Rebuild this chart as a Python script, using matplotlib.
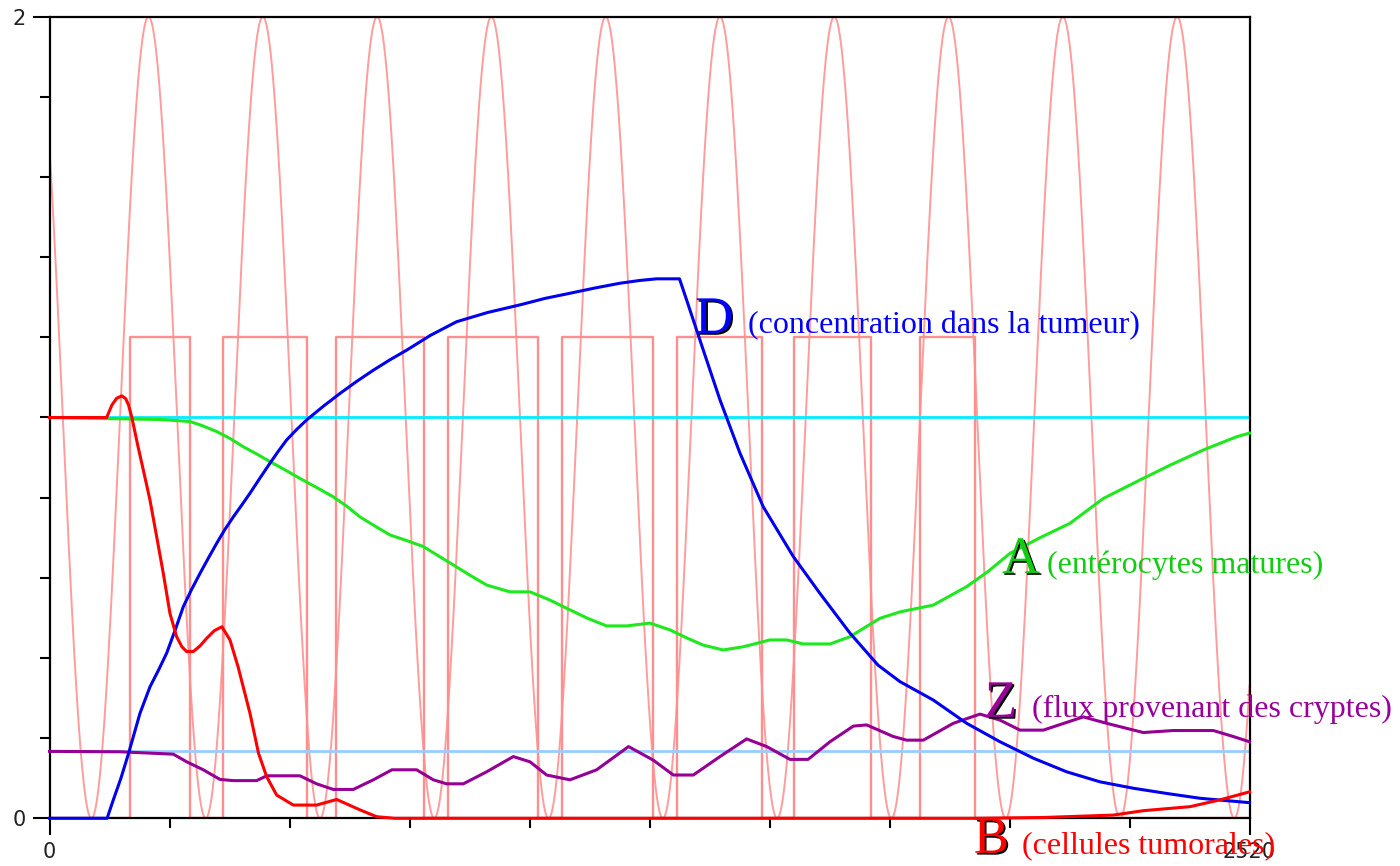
import numpy as np
import matplotlib
matplotlib.use('Agg')
import matplotlib.pyplot as plt
import matplotlib.patheffects as pe
from matplotlib.ticker import MultipleLocator, FixedLocator

# forcing oscillation: between 0 and 2, period 240, first peak ~208
osc_period = 240
osc_peak = 208
osc_mean = 1.0
osc_amp = 1.0

# treatment pulses (square wave, height 1.2)
pulse_on = [170, 365, 601, 836, 1077, 1317, 1563, 1828]
pulse_off = [294, 540, 786, 1026, 1267, 1496, 1725, 1944]
pulse_level = 1.2

# reference levels
a_ref = 1.0
z_ref = 0.167

# B : cellules tumorales
b_t = [0, 120, 131, 141, 152, 160, 166, 173, 186, 197, 211, 225, 239, 253, 267, 278,
       288, 302, 316, 330, 346, 362, 379, 396, 421, 439, 456, 477, 512, 561, 603, 652,
       687, 725, 1950, 2086, 2234, 2297, 2395, 2458, 2520]
b_v = [1.0, 1.0, 1.031, 1.048, 1.054, 1.047, 1.031, 1.0, 0.927, 0.869, 0.794, 0.703,
       0.611, 0.511, 0.453, 0.428, 0.416, 0.416, 0.43, 0.449, 0.468, 0.478, 0.445, 0.378,
       0.262, 0.162, 0.104, 0.058, 0.033, 0.033, 0.047, 0.021, 0.004, 0.0, 0.0, 0.002,
       0.008, 0.019, 0.029, 0.046, 0.066]

# D : concentration dans la tumeur
d_t = [0, 121, 134, 150, 166, 190, 211, 229, 246, 264, 281, 298, 316, 334, 351, 368,
       386, 404, 421, 442, 463, 480, 498, 519, 540, 575, 610, 645, 680, 715, 750, 800,
       855, 920, 988, 1040, 1093, 1145, 1198, 1240, 1275, 1323, 1338, 1373, 1408, 1450,
       1499, 1562, 1618, 1681, 1740, 1786, 1856, 1926, 1996, 2066, 2136, 2206, 2276,
       2346, 2416, 2520]
d_v = [0.0, 0.0, 0.046, 0.1, 0.162, 0.262, 0.328, 0.37, 0.412, 0.47, 0.528, 0.57, 0.611,
       0.65, 0.686, 0.72, 0.752, 0.782, 0.811, 0.849, 0.886, 0.915, 0.944, 0.97, 0.994,
       1.028, 1.06, 1.09, 1.118, 1.144, 1.168, 1.205, 1.239, 1.262, 1.281, 1.297, 1.31,
       1.323, 1.335, 1.342, 1.346, 1.346, 1.293, 1.168, 1.044, 0.911, 0.777, 0.653,
       0.561, 0.462, 0.382, 0.341, 0.295, 0.237, 0.191, 0.15, 0.116, 0.091, 0.075, 0.062,
       0.05, 0.039]

# A : entérocytes matures
a_t = [0, 232, 295, 320, 351, 380, 407, 435, 463, 495, 526, 560, 596, 625, 652, 685,
       715, 750, 785, 848, 885, 918, 967, 1009, 1050, 1093, 1130, 1170, 1212, 1261, 1303,
       1340, 1373, 1415, 1457, 1513, 1548, 1583, 1639, 1681, 1715, 1744, 1786, 1856,
       1926, 1970, 2017, 2080, 2143, 2213, 2283, 2353, 2423, 2493, 2520]
a_v = [1.0, 0.995, 0.99, 0.98, 0.965, 0.947, 0.927, 0.909, 0.89, 0.869, 0.848, 0.826,
       0.802, 0.778, 0.752, 0.728, 0.707, 0.693, 0.678, 0.632, 0.605, 0.582, 0.565,
       0.565, 0.545, 0.52, 0.499, 0.48, 0.48, 0.487, 0.47, 0.449, 0.432, 0.42, 0.428,
       0.445, 0.445, 0.435, 0.435, 0.453, 0.478, 0.499, 0.515, 0.532, 0.578, 0.615,
       0.661, 0.7, 0.736, 0.798, 0.84, 0.881, 0.919, 0.952, 0.961]

# Z : flux provenant des cryptes
z_t = [0, 148, 260, 288, 323, 358, 386, 435, 456, 526, 561, 596, 638, 680, 719, 771,
       806, 834, 869, 918, 974, 1009, 1044, 1093, 1149, 1216, 1268, 1310, 1352, 1408,
       1464, 1506, 1555, 1593, 1639, 1688, 1716, 1772, 1800, 1835, 1898, 1954, 1996,
       2038, 2087, 2171, 2220, 2297, 2360, 2444, 2486, 2520]
z_v = [0.167, 0.166, 0.16, 0.141, 0.121, 0.097, 0.094, 0.094, 0.106, 0.106, 0.086,
       0.072, 0.072, 0.096, 0.121, 0.121, 0.096, 0.086, 0.086, 0.116, 0.154, 0.141,
       0.108, 0.096, 0.121, 0.179, 0.145, 0.108, 0.108, 0.154, 0.198, 0.179, 0.147,
       0.147, 0.191, 0.23, 0.233, 0.204, 0.195, 0.195, 0.237, 0.26, 0.245, 0.22, 0.22,
       0.253, 0.237, 0.214, 0.219, 0.219, 0.204, 0.191]

t_max = 2520

fig = plt.figure(figsize=(14, 8.66), dpi=100)
ax = fig.add_axes([49.5 / 1400, (866 - 818.3) / 866, 1200 / 1400, 801.6 / 866])

pink = '#ff9c9c'
t = np.linspace(0, t_max, 3000)
osc = osc_mean + osc_amp * np.cos(2 * np.pi * (t - osc_peak) / osc_period)
ax.plot(t, osc, color=pink, lw=1.4, zorder=1)

sq_x, sq_y = [0], [0]
for on, off in zip(pulse_on, pulse_off):
    sq_x += [on, on, off, off]
    sq_y += [0, pulse_level, pulse_level, 0]
sq_x.append(t_max)
sq_y.append(0)
ax.plot(sq_x, sq_y, color='#ff8e8e', lw=1.7, zorder=1.2)

ax.axhline(a_ref, color='#00eeff', lw=2, zorder=1.5)
ax.axhline(z_ref, color='#99ccff', lw=2, zorder=1.5)

ax.plot(z_t, z_v, color='#930093', lw=2.2, zorder=3, clip_on=False)
ax.plot(a_t, a_v, color='#1ee81e', lw=2.2, zorder=3.1, clip_on=False)
ax.plot(d_t, d_v, color='#0000f0', lw=2.2, zorder=3.2, clip_on=False)
ax.plot(b_t, b_v, color='#ff0000', lw=2.2, zorder=3.3, clip_on=False)

ax.set_xlim(0, t_max)
ax.set_ylim(0, 2)
ax.xaxis.set_major_locator(FixedLocator([0, t_max]))
ax.xaxis.set_minor_locator(MultipleLocator(252))
ax.yaxis.set_major_locator(FixedLocator([0, 2]))
ax.yaxis.set_minor_locator(MultipleLocator(0.2))
ax.set_xticklabels(['0', '2520'])
ax.set_yticklabels(['0', '2'])
ax.tick_params(which='major', length=12, width=1.5, direction='out', labelsize=15, pad=5,
               labelcolor='#222222')
ax.tick_params(which='minor', length=7, width=1.5, direction='out')
for s in ax.spines.values():
    s.set_linewidth(1.6)
    s.set_zorder(2.5)

shadow = [pe.SimplePatchShadow(offset=(1.3, -1.3), shadow_rgbFace='black', alpha=1.0), pe.Normal()]
labels = [
    ('D', '(concentration dans la tumeur)', 1356, 1.211, 1467, '#0000ff'),
    ('A', '(entérocytes matures)', 2000, 0.612, 2094, '#11cc11'),
    ('Z', '(flux provenant des cryptes)', 1964, 0.253, 2063, '#990099'),
    ('B', '(cellules tumorales)', 1941, -0.086, 2042, '#ff0000'),
]
for letter, desc, lx, ly, dx, col in labels:
    ax.text(lx, ly, letter, color=col, fontsize=38, family='Liberation Serif',
            ha='left', va='baseline', path_effects=shadow, clip_on=False, zorder=5)
    ax.text(dx, ly, desc, color=col, fontsize=23, family='Liberation Serif',
            ha='left', va='baseline', clip_on=False, zorder=5)

fig.savefig('out.png', dpi=100)
